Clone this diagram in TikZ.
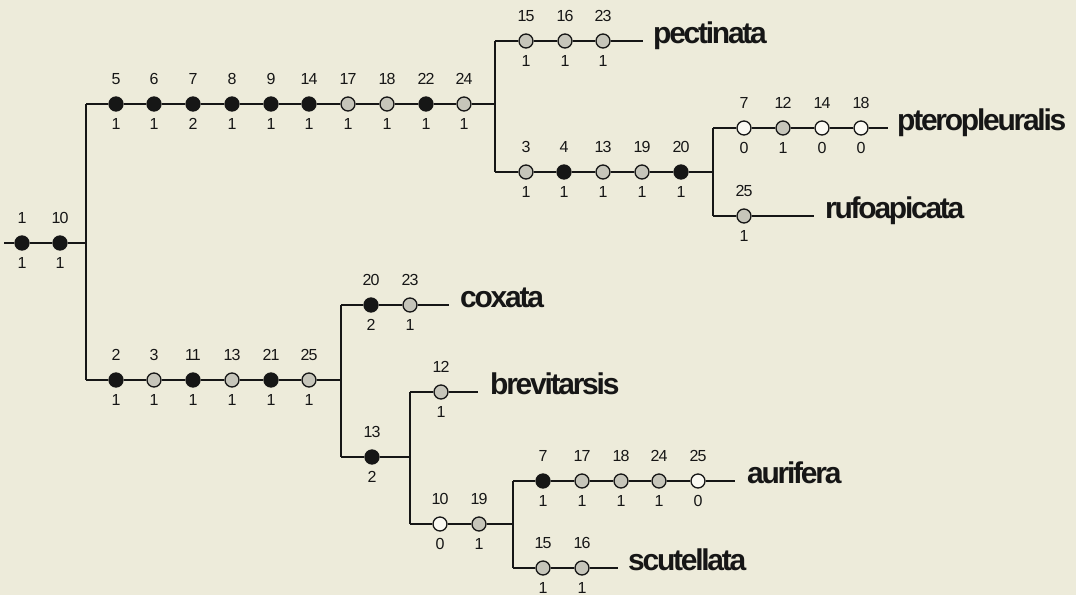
\documentclass[tikz,border=0pt]{standalone}
\usepackage{fontspec}
\setmainfont{Liberation Sans}
\newfontfamily\numfont{Liberation Sans}[LetterSpace=-6]
\newfontfamily\taxfont{Liberation Sans}[LetterSpace=-7.5]
\definecolor{paper}{HTML}{EDEBDA}
\definecolor{ink}{HTML}{161616}
\definecolor{midgrey}{HTML}{C6C5BA}
\definecolor{pale}{HTML}{FAF9F2}
\tikzset{
  wire/.style={draw=ink, line width=1.4pt},
  state/.style={circle, draw=ink, line width=1.3pt, minimum size=14pt, inner sep=0pt},
  full/.style={state, fill=ink},
  half/.style={state, fill=midgrey},
  open/.style={state, fill=pale},
  lab/.style={inner sep=0pt, text=ink, font=\numfont\fontsize{16}{16}\selectfont},
  taxon/.style={anchor=mid west, inner sep=0pt, text=ink, font=\taxfont\bfseries\fontsize{30}{32}\selectfont}
}
% character state: name, x, y, style, character number, state value
\newcommand\chst[6]{%
  \node[#4] (#1) at (#2,#3) {};
  \node[lab] (#1-n) at (#2,#3-25) {#5};
  \node[lab] (#1-v) at (#2,#3+19.5) {#6};}
\begin{document}
\begin{tikzpicture}[x=1pt, y=-1pt]
\fill[paper] (0,0) rectangle (1076,595);
\useasboundingbox (0,0) rectangle (1076,595);

% root
\coordinate (r0) at (4,243);
\chst{a1}{22}{243}{full}{1}{1}
\chst{a10}{60}{243}{full}{10}{1}
\coordinate (s0) at (86,243);
\coordinate (s0t) at (86,104);
\coordinate (s0b) at (86,380);
\draw[wire] (r0) -- (a1) -- (a10) -- (s0);
\draw[wire] (s0t) -- (s0b);

% upper clade
\chst{t5}{116}{104}{full}{5}{1}
\chst{t6}{154}{104}{full}{6}{1}
\chst{t7}{193}{104}{full}{7}{2}
\chst{t8}{232}{104}{full}{8}{1}
\chst{t9}{271}{104}{full}{9}{1}
\chst{t14}{309}{104}{full}{14}{1}
\chst{t17}{348}{104}{half}{17}{1}
\chst{t18}{387}{104}{half}{18}{1}
\chst{t22}{426}{104}{full}{22}{1}
\chst{t24}{464}{104}{half}{24}{1}
\coordinate (s1) at (495,104);
\coordinate (s1t) at (495,41);
\coordinate (s1b) at (495,172);
\draw[wire] (s0t) -- (t5) -- (t6) -- (t7) -- (t8) -- (t9) -- (t14) -- (t17) -- (t18) -- (t22) -- (t24) -- (s1);
\draw[wire] (s1t) -- (s1b);

% pectinata
\chst{p15}{526}{41}{half}{15}{1}
\chst{p16}{565}{41}{half}{16}{1}
\chst{p23}{603}{41}{half}{23}{1}
\coordinate (pe) at (643,41);
\node[taxon] (pect) at (653,41) {pectinata};
\draw[wire] (s1t) -- (p15) -- (p16) -- (p23) -- (pe);

% pteropleuralis + rufoapicata
\chst{q3}{526}{172}{half}{3}{1}
\chst{q4}{564}{172}{full}{4}{1}
\chst{q13}{603}{172}{half}{13}{1}
\chst{q19}{642}{172}{half}{19}{1}
\chst{q20}{681}{172}{full}{20}{1}
\coordinate (s2) at (713,172);
\coordinate (s2t) at (713,128);
\coordinate (s2b) at (713,216);
\draw[wire] (s1b) -- (q3) -- (q4) -- (q13) -- (q19) -- (q20) -- (s2);
\draw[wire] (s2t) -- (s2b);

\chst{u7}{744}{128}{open}{7}{0}
\chst{u12}{783}{128}{half}{12}{1}
\chst{u14}{822}{128}{open}{14}{0}
\chst{u18}{861}{128}{open}{18}{0}
\coordinate (ue) at (888,128);
\node[taxon] (pter) at (897,128) {pteropleuralis};
\draw[wire] (s2t) -- (u7) -- (u12) -- (u14) -- (u18) -- (ue);

\chst{v25}{744}{216}{half}{25}{1}
\coordinate (ve) at (814,216);
\node[taxon] (rufo) at (825,216) {rufoapicata};
\draw[wire] (s2b) -- (v25) -- (ve);

% lower clade
\chst{c2}{116}{380}{full}{2}{1}
\chst{c3}{154}{380}{half}{3}{1}
\chst{c11}{193}{380}{full}{11}{1}
\chst{c13}{232}{380}{half}{13}{1}
\chst{c21}{271}{380}{full}{21}{1}
\chst{c25}{309}{380}{half}{25}{1}
\coordinate (s3) at (341,380);
\coordinate (s3t) at (341,305);
\coordinate (s3b) at (341,457);
\draw[wire] (s0b) -- (c2) -- (c3) -- (c11) -- (c13) -- (c21) -- (c25) -- (s3);
\draw[wire] (s3t) -- (s3b);

% coxata
\chst{x20}{371}{305}{full}{20}{2}
\chst{x23}{410}{305}{half}{23}{1}
\coordinate (xe) at (449,305);
\node[taxon] (coxa) at (460,305) {coxata};
\draw[wire] (s3t) -- (x20) -- (x23) -- (xe);

\chst{d13}{372}{457}{full}{13}{2}
\coordinate (s4) at (410,457);
\coordinate (s4t) at (410,392);
\coordinate (s4b) at (410,524);
\draw[wire] (s3b) -- (d13) -- (s4);
\draw[wire] (s4t) -- (s4b);

% brevitarsis
\chst{e12}{441}{392}{half}{12}{1}
\coordinate (ee) at (478,392);
\node[taxon] (brev) at (490,392) {brevitarsis};
\draw[wire] (s4t) -- (e12) -- (ee);

\chst{f10}{440}{524}{open}{10}{0}
\chst{f19}{479}{524}{half}{19}{1}
\coordinate (s5) at (513,524);
\coordinate (s5t) at (513,481);
\coordinate (s5b) at (513,568);
\draw[wire] (s4b) -- (f10) -- (f19) -- (s5);
\draw[wire] (s5t) -- (s5b);

% aurifera
\chst{g7}{543}{481}{full}{7}{1}
\chst{g17}{582}{481}{half}{17}{1}
\chst{g18}{621}{481}{half}{18}{1}
\chst{g24}{659}{481}{half}{24}{1}
\chst{g25}{698}{481}{open}{25}{0}
\coordinate (ge) at (735,481);
\node[taxon] (auri) at (747,481) {aurifera};
\draw[wire] (s5t) -- (g7) -- (g17) -- (g18) -- (g24) -- (g25) -- (ge);

% scutellata
\chst{h15}{543}{568}{half}{15}{1}
\chst{h16}{582}{568}{half}{16}{1}
\coordinate (he) at (618,568);
\node[taxon] (scut) at (628,568) {scutellata};
\draw[wire] (s5b) -- (h15) -- (h16) -- (he);
\end{tikzpicture}
\end{document}
